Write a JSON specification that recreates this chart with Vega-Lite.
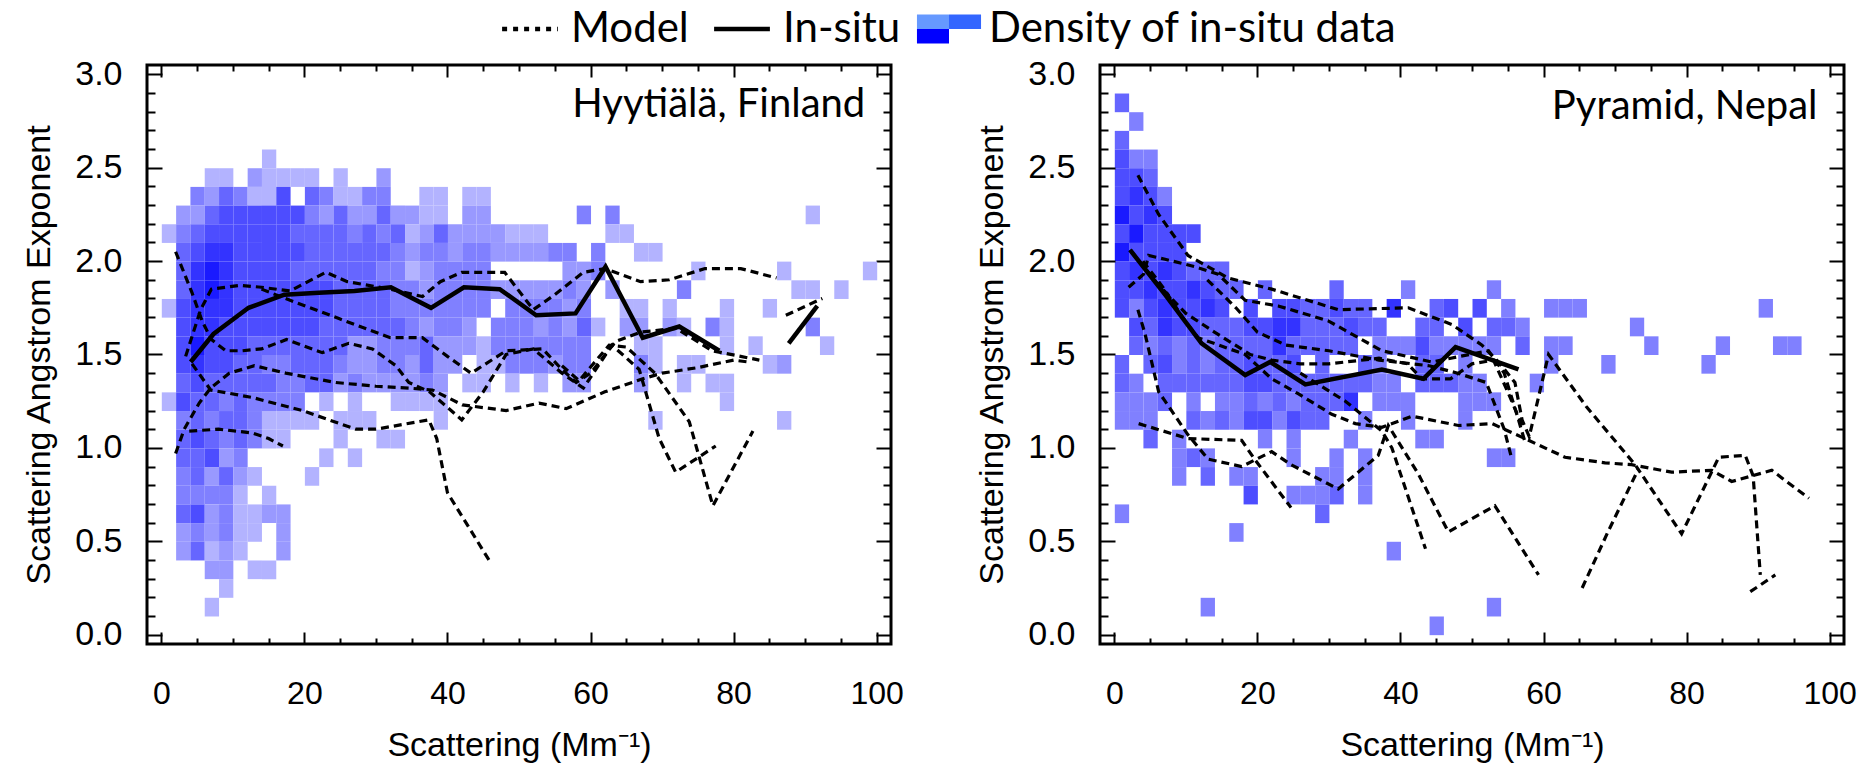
{
"$schema": "https://vega.github.io/schema/vega-lite/v6.json",
"padding": {"left": 21, "top": 6, "right": 0, "bottom": 0},
"bounds": "flush",
"spacing": 209,
"datasets": {
"hyCells": [
{"x":14,"y":2.5,"l":1},
{"x":6,"y":2.4,"l":1},{"x":8,"y":2.4,"l":1},{"x":12,"y":2.4,"l":2},{"x":14,"y":2.4,"l":1},{"x":16,"y":2.4,"l":1},{"x":18,"y":2.4,"l":1},{"x":20,"y":2.4,"l":1},{"x":24,"y":2.4,"l":1},{"x":30,"y":2.4,"l":2},
{"x":4,"y":2.3,"l":3},{"x":6,"y":2.3,"l":2},{"x":8,"y":2.3,"l":4},{"x":10,"y":2.3,"l":3},{"x":12,"y":2.3,"l":1},{"x":14,"y":2.3,"l":1},{"x":16,"y":2.3,"l":5},{"x":20,"y":2.3,"l":4},{"x":22,"y":2.3,"l":3},{"x":24,"y":2.3,"l":1},{"x":26,"y":2.3,"l":1},{"x":28,"y":2.3,"l":3},{"x":30,"y":2.3,"l":3},{"x":36,"y":2.3,"l":1},{"x":38,"y":2.3,"l":1},{"x":42,"y":2.3,"l":1},{"x":44,"y":2.3,"l":1},
{"x":2,"y":2.2,"l":2},{"x":4,"y":2.2,"l":2},{"x":6,"y":2.2,"l":4},{"x":8,"y":2.2,"l":5},{"x":10,"y":2.2,"l":5},{"x":12,"y":2.2,"l":5},{"x":14,"y":2.2,"l":5},{"x":16,"y":2.2,"l":5},{"x":18,"y":2.2,"l":5},{"x":20,"y":2.2,"l":3},{"x":22,"y":2.2,"l":2},{"x":24,"y":2.2,"l":4},{"x":26,"y":2.2,"l":2},{"x":28,"y":2.2,"l":2},{"x":30,"y":2.2,"l":4},{"x":32,"y":2.2,"l":2},{"x":34,"y":2.2,"l":2},{"x":36,"y":2.2,"l":1},{"x":38,"y":2.2,"l":1},{"x":42,"y":2.2,"l":2},{"x":44,"y":2.2,"l":2},{"x":58,"y":2.2,"l":3},{"x":62,"y":2.2,"l":3},{"x":90,"y":2.2,"l":1},
{"x":0,"y":2.1,"l":1},{"x":2,"y":2.1,"l":3},{"x":4,"y":2.1,"l":4},{"x":6,"y":2.1,"l":5},{"x":8,"y":2.1,"l":5},{"x":10,"y":2.1,"l":5},{"x":12,"y":2.1,"l":5},{"x":14,"y":2.1,"l":5},{"x":16,"y":2.1,"l":5},{"x":18,"y":2.1,"l":4},{"x":20,"y":2.1,"l":4},{"x":22,"y":2.1,"l":4},{"x":24,"y":2.1,"l":4},{"x":26,"y":2.1,"l":3},{"x":28,"y":2.1,"l":4},{"x":30,"y":2.1,"l":3},{"x":32,"y":2.1,"l":4},{"x":34,"y":2.1,"l":1},{"x":36,"y":2.1,"l":2},{"x":38,"y":2.1,"l":4},{"x":40,"y":2.1,"l":2},{"x":42,"y":2.1,"l":2},{"x":44,"y":2.1,"l":2},{"x":46,"y":2.1,"l":2},{"x":48,"y":2.1,"l":1},{"x":50,"y":2.1,"l":1},{"x":52,"y":2.1,"l":1},{"x":62,"y":2.1,"l":1},{"x":64,"y":2.1,"l":1},
{"x":2,"y":2.0,"l":4},{"x":4,"y":2.0,"l":5},{"x":6,"y":2.0,"l":6},{"x":8,"y":2.0,"l":6},{"x":10,"y":2.0,"l":5},{"x":12,"y":2.0,"l":5},{"x":14,"y":2.0,"l":5},{"x":16,"y":2.0,"l":5},{"x":18,"y":2.0,"l":5},{"x":20,"y":2.0,"l":4},{"x":22,"y":2.0,"l":4},{"x":24,"y":2.0,"l":4},{"x":26,"y":2.0,"l":4},{"x":28,"y":2.0,"l":4},{"x":30,"y":2.0,"l":4},{"x":32,"y":2.0,"l":3},{"x":34,"y":2.0,"l":2},{"x":36,"y":2.0,"l":3},{"x":38,"y":2.0,"l":3},{"x":40,"y":2.0,"l":2},{"x":42,"y":2.0,"l":3},{"x":44,"y":2.0,"l":3},{"x":46,"y":2.0,"l":2},{"x":48,"y":2.0,"l":2},{"x":50,"y":2.0,"l":2},{"x":52,"y":2.0,"l":2},{"x":54,"y":2.0,"l":3},{"x":56,"y":2.0,"l":3},{"x":60,"y":2.0,"l":3},{"x":66,"y":2.0,"l":1},{"x":68,"y":2.0,"l":1},
{"x":2,"y":1.9,"l":4},{"x":4,"y":1.9,"l":6},{"x":6,"y":1.9,"l":7},{"x":8,"y":1.9,"l":6},{"x":10,"y":1.9,"l":5},{"x":12,"y":1.9,"l":5},{"x":14,"y":1.9,"l":5},{"x":16,"y":1.9,"l":5},{"x":18,"y":1.9,"l":4},{"x":20,"y":1.9,"l":4},{"x":22,"y":1.9,"l":4},{"x":24,"y":1.9,"l":4},{"x":26,"y":1.9,"l":4},{"x":28,"y":1.9,"l":4},{"x":30,"y":1.9,"l":3},{"x":32,"y":1.9,"l":3},{"x":34,"y":1.9,"l":1},{"x":36,"y":1.9,"l":2},{"x":38,"y":1.9,"l":3},{"x":40,"y":1.9,"l":3},{"x":42,"y":1.9,"l":3},{"x":44,"y":1.9,"l":3},{"x":56,"y":1.9,"l":2},{"x":58,"y":1.9,"l":2},{"x":60,"y":1.9,"l":3},{"x":74,"y":1.9,"l":1},{"x":86,"y":1.9,"l":1},{"x":98,"y":1.9,"l":1},
{"x":2,"y":1.8,"l":4},{"x":4,"y":1.8,"l":6},{"x":6,"y":1.8,"l":7},{"x":8,"y":1.8,"l":6},{"x":10,"y":1.8,"l":5},{"x":12,"y":1.8,"l":5},{"x":14,"y":1.8,"l":5},{"x":16,"y":1.8,"l":5},{"x":18,"y":1.8,"l":5},{"x":20,"y":1.8,"l":5},{"x":22,"y":1.8,"l":5},{"x":24,"y":1.8,"l":4},{"x":26,"y":1.8,"l":4},{"x":28,"y":1.8,"l":4},{"x":30,"y":1.8,"l":4},{"x":32,"y":1.8,"l":3},{"x":34,"y":1.8,"l":3},{"x":36,"y":1.8,"l":2},{"x":38,"y":1.8,"l":3},{"x":40,"y":1.8,"l":3},{"x":42,"y":1.8,"l":3},{"x":44,"y":1.8,"l":3},{"x":46,"y":1.8,"l":2},{"x":48,"y":1.8,"l":2},{"x":50,"y":1.8,"l":2},{"x":52,"y":1.8,"l":2},{"x":54,"y":1.8,"l":2},{"x":56,"y":1.8,"l":3},{"x":58,"y":1.8,"l":2},{"x":62,"y":1.8,"l":2},{"x":72,"y":1.8,"l":3},{"x":88,"y":1.8,"l":1},{"x":90,"y":1.8,"l":1},{"x":94,"y":1.8,"l":1},
{"x":0,"y":1.7,"l":1},{"x":2,"y":1.7,"l":5},{"x":4,"y":1.7,"l":6},{"x":6,"y":1.7,"l":6},{"x":8,"y":1.7,"l":6},{"x":10,"y":1.7,"l":5},{"x":12,"y":1.7,"l":5},{"x":14,"y":1.7,"l":5},{"x":16,"y":1.7,"l":5},{"x":18,"y":1.7,"l":5},{"x":20,"y":1.7,"l":5},{"x":22,"y":1.7,"l":5},{"x":24,"y":1.7,"l":4},{"x":26,"y":1.7,"l":4},{"x":28,"y":1.7,"l":4},{"x":30,"y":1.7,"l":4},{"x":32,"y":1.7,"l":3},{"x":34,"y":1.7,"l":3},{"x":36,"y":1.7,"l":3},{"x":38,"y":1.7,"l":3},{"x":40,"y":1.7,"l":3},{"x":42,"y":1.7,"l":3},{"x":44,"y":1.7,"l":3},{"x":48,"y":1.7,"l":3},{"x":50,"y":1.7,"l":3},{"x":52,"y":1.7,"l":3},{"x":54,"y":1.7,"l":3},{"x":56,"y":1.7,"l":2},{"x":58,"y":1.7,"l":3},{"x":64,"y":1.7,"l":1},{"x":66,"y":1.7,"l":1},{"x":70,"y":1.7,"l":1},{"x":78,"y":1.7,"l":1},{"x":84,"y":1.7,"l":1},
{"x":2,"y":1.6,"l":5},{"x":4,"y":1.6,"l":6},{"x":6,"y":1.6,"l":6},{"x":8,"y":1.6,"l":5},{"x":10,"y":1.6,"l":5},{"x":12,"y":1.6,"l":5},{"x":14,"y":1.6,"l":5},{"x":16,"y":1.6,"l":5},{"x":18,"y":1.6,"l":5},{"x":20,"y":1.6,"l":5},{"x":22,"y":1.6,"l":4},{"x":24,"y":1.6,"l":4},{"x":26,"y":1.6,"l":4},{"x":28,"y":1.6,"l":4},{"x":30,"y":1.6,"l":4},{"x":32,"y":1.6,"l":4},{"x":34,"y":1.6,"l":3},{"x":36,"y":1.6,"l":2},{"x":38,"y":1.6,"l":3},{"x":40,"y":1.6,"l":3},{"x":42,"y":1.6,"l":2},{"x":46,"y":1.6,"l":3},{"x":48,"y":1.6,"l":3},{"x":50,"y":1.6,"l":3},{"x":52,"y":1.6,"l":2},{"x":54,"y":1.6,"l":3},{"x":56,"y":1.6,"l":2},{"x":58,"y":1.6,"l":4},{"x":60,"y":1.6,"l":1},{"x":64,"y":1.6,"l":2},{"x":66,"y":1.6,"l":2},{"x":70,"y":1.6,"l":2},{"x":72,"y":1.6,"l":1},{"x":76,"y":1.6,"l":3},{"x":78,"y":1.6,"l":1},{"x":90,"y":1.6,"l":3},
{"x":2,"y":1.5,"l":5},{"x":4,"y":1.5,"l":7},{"x":6,"y":1.5,"l":5},{"x":8,"y":1.5,"l":5},{"x":10,"y":1.5,"l":5},{"x":12,"y":1.5,"l":4},{"x":14,"y":1.5,"l":4},{"x":16,"y":1.5,"l":4},{"x":18,"y":1.5,"l":4},{"x":20,"y":1.5,"l":4},{"x":22,"y":1.5,"l":4},{"x":24,"y":1.5,"l":4},{"x":26,"y":1.5,"l":2},{"x":28,"y":1.5,"l":2},{"x":30,"y":1.5,"l":3},{"x":32,"y":1.5,"l":3},{"x":34,"y":1.5,"l":3},{"x":36,"y":1.5,"l":4},{"x":38,"y":1.5,"l":2},{"x":40,"y":1.5,"l":2},{"x":42,"y":1.5,"l":2},{"x":44,"y":1.5,"l":1},{"x":46,"y":1.5,"l":3},{"x":48,"y":1.5,"l":3},{"x":50,"y":1.5,"l":3},{"x":52,"y":1.5,"l":3},{"x":54,"y":1.5,"l":3},{"x":56,"y":1.5,"l":3},{"x":58,"y":1.5,"l":3},{"x":66,"y":1.5,"l":1},{"x":68,"y":1.5,"l":1},{"x":78,"y":1.5,"l":1},{"x":82,"y":1.5,"l":1},{"x":92,"y":1.5,"l":1},
{"x":2,"y":1.4,"l":5},{"x":4,"y":1.4,"l":6},{"x":6,"y":1.4,"l":5},{"x":8,"y":1.4,"l":5},{"x":10,"y":1.4,"l":4},{"x":12,"y":1.4,"l":4},{"x":14,"y":1.4,"l":3},{"x":16,"y":1.4,"l":3},{"x":18,"y":1.4,"l":4},{"x":20,"y":1.4,"l":4},{"x":22,"y":1.4,"l":4},{"x":24,"y":1.4,"l":3},{"x":26,"y":1.4,"l":2},{"x":28,"y":1.4,"l":2},{"x":30,"y":1.4,"l":3},{"x":32,"y":1.4,"l":3},{"x":34,"y":1.4,"l":2},{"x":36,"y":1.4,"l":4},{"x":38,"y":1.4,"l":2},{"x":40,"y":1.4,"l":2},{"x":44,"y":1.4,"l":1},{"x":46,"y":1.4,"l":1},{"x":48,"y":1.4,"l":3},{"x":50,"y":1.4,"l":3},{"x":52,"y":1.4,"l":3},{"x":54,"y":1.4,"l":2},{"x":56,"y":1.4,"l":3},{"x":58,"y":1.4,"l":3},{"x":66,"y":1.4,"l":3},{"x":68,"y":1.4,"l":1},{"x":72,"y":1.4,"l":1},{"x":74,"y":1.4,"l":1},{"x":84,"y":1.4,"l":1},{"x":86,"y":1.4,"l":2},
{"x":2,"y":1.3,"l":4},{"x":4,"y":1.3,"l":5},{"x":6,"y":1.3,"l":4},{"x":8,"y":1.3,"l":4},{"x":10,"y":1.3,"l":4},{"x":12,"y":1.3,"l":4},{"x":14,"y":1.3,"l":4},{"x":16,"y":1.3,"l":3},{"x":18,"y":1.3,"l":3},{"x":20,"y":1.3,"l":4},{"x":22,"y":1.3,"l":4},{"x":24,"y":1.3,"l":2},{"x":26,"y":1.3,"l":3},{"x":28,"y":1.3,"l":2},{"x":30,"y":1.3,"l":2},{"x":32,"y":1.3,"l":2},{"x":34,"y":1.3,"l":2},{"x":36,"y":1.3,"l":3},{"x":38,"y":1.3,"l":2},{"x":42,"y":1.3,"l":1},{"x":44,"y":1.3,"l":1},{"x":48,"y":1.3,"l":1},{"x":52,"y":1.3,"l":1},{"x":56,"y":1.3,"l":2},{"x":58,"y":1.3,"l":2},{"x":66,"y":1.3,"l":2},{"x":72,"y":1.3,"l":1},{"x":76,"y":1.3,"l":1},{"x":78,"y":1.3,"l":1},
{"x":0,"y":1.2,"l":1},{"x":2,"y":1.2,"l":5},{"x":4,"y":1.2,"l":4},{"x":6,"y":1.2,"l":4},{"x":8,"y":1.2,"l":3},{"x":10,"y":1.2,"l":4},{"x":12,"y":1.2,"l":3},{"x":14,"y":1.2,"l":3},{"x":16,"y":1.2,"l":3},{"x":18,"y":1.2,"l":3},{"x":22,"y":1.2,"l":1},{"x":26,"y":1.2,"l":1},{"x":32,"y":1.2,"l":1},{"x":34,"y":1.2,"l":1},{"x":36,"y":1.2,"l":1},{"x":38,"y":1.2,"l":1},{"x":78,"y":1.2,"l":1},
{"x":2,"y":1.1,"l":3},{"x":4,"y":1.1,"l":4},{"x":6,"y":1.1,"l":3},{"x":8,"y":1.1,"l":4},{"x":10,"y":1.1,"l":4},{"x":12,"y":1.1,"l":3},{"x":14,"y":1.1,"l":1},{"x":16,"y":1.1,"l":1},{"x":18,"y":1.1,"l":1},{"x":20,"y":1.1,"l":1},{"x":24,"y":1.1,"l":1},{"x":26,"y":1.1,"l":1},{"x":28,"y":1.1,"l":1},{"x":38,"y":1.1,"l":1},{"x":68,"y":1.1,"l":1},{"x":86,"y":1.1,"l":1},
{"x":2,"y":1.0,"l":4},{"x":4,"y":1.0,"l":5},{"x":6,"y":1.0,"l":4},{"x":8,"y":1.0,"l":3},{"x":10,"y":1.0,"l":4},{"x":12,"y":1.0,"l":3},{"x":14,"y":1.0,"l":1},{"x":16,"y":1.0,"l":1},{"x":24,"y":1.0,"l":1},{"x":30,"y":1.0,"l":1},{"x":32,"y":1.0,"l":1},
{"x":2,"y":0.9,"l":4},{"x":4,"y":0.9,"l":4},{"x":6,"y":0.9,"l":5},{"x":8,"y":0.9,"l":2},{"x":10,"y":0.9,"l":3},{"x":22,"y":0.9,"l":1},{"x":26,"y":0.9,"l":1},
{"x":2,"y":0.8,"l":3},{"x":4,"y":0.8,"l":4},{"x":6,"y":0.8,"l":2},{"x":8,"y":0.8,"l":4},{"x":10,"y":0.8,"l":2},{"x":12,"y":0.8,"l":1},{"x":20,"y":0.8,"l":1},
{"x":2,"y":0.7,"l":3},{"x":4,"y":0.7,"l":3},{"x":6,"y":0.7,"l":3},{"x":8,"y":0.7,"l":3},{"x":10,"y":0.7,"l":1},{"x":14,"y":0.7,"l":1},
{"x":2,"y":0.6,"l":4},{"x":4,"y":0.6,"l":5},{"x":6,"y":0.6,"l":2},{"x":8,"y":0.6,"l":3},{"x":10,"y":0.6,"l":1},{"x":12,"y":0.6,"l":1},{"x":14,"y":0.6,"l":2},{"x":16,"y":0.6,"l":2},
{"x":2,"y":0.5,"l":2},{"x":4,"y":0.5,"l":3},{"x":6,"y":0.5,"l":2},{"x":8,"y":0.5,"l":3},{"x":10,"y":0.5,"l":1},{"x":12,"y":0.5,"l":1},{"x":16,"y":0.5,"l":2},
{"x":2,"y":0.4,"l":2},{"x":4,"y":0.4,"l":4},{"x":6,"y":0.4,"l":1},{"x":8,"y":0.4,"l":2},{"x":10,"y":0.4,"l":1},{"x":16,"y":0.4,"l":2},
{"x":6,"y":0.3,"l":2},{"x":8,"y":0.3,"l":2},{"x":12,"y":0.3,"l":1},{"x":14,"y":0.3,"l":1},
{"x":8,"y":0.2,"l":1},
{"x":6,"y":0.1,"l":1}
],
"pyCells": [
{"x":0,"y":2.8,"l":4},
{"x":2,"y":2.7,"l":3},
{"x":0,"y":2.6,"l":4},
{"x":0,"y":2.5,"l":5},{"x":2,"y":2.5,"l":3},{"x":4,"y":2.5,"l":3},
{"x":0,"y":2.4,"l":5},{"x":2,"y":2.4,"l":5},{"x":4,"y":2.4,"l":4},
{"x":0,"y":2.3,"l":5},{"x":2,"y":2.3,"l":6},{"x":4,"y":2.3,"l":5},{"x":6,"y":2.3,"l":3},
{"x":0,"y":2.2,"l":7},{"x":2,"y":2.2,"l":5},{"x":4,"y":2.2,"l":6},{"x":6,"y":2.2,"l":5},
{"x":0,"y":2.1,"l":5},{"x":2,"y":2.1,"l":7},{"x":4,"y":2.1,"l":5},{"x":6,"y":2.1,"l":5},{"x":8,"y":2.1,"l":5},{"x":10,"y":2.1,"l":5},
{"x":0,"y":2.0,"l":7},{"x":2,"y":2.0,"l":5},{"x":4,"y":2.0,"l":5},{"x":6,"y":2.0,"l":5},{"x":8,"y":2.0,"l":5},
{"x":0,"y":1.9,"l":5},{"x":2,"y":1.9,"l":6},{"x":4,"y":1.9,"l":5},{"x":6,"y":1.9,"l":6},{"x":8,"y":1.9,"l":5},{"x":10,"y":1.9,"l":4},{"x":12,"y":1.9,"l":4},{"x":14,"y":1.9,"l":4},
{"x":0,"y":1.8,"l":5},{"x":2,"y":1.8,"l":5},{"x":4,"y":1.8,"l":6},{"x":6,"y":1.8,"l":5},{"x":8,"y":1.8,"l":5},{"x":10,"y":1.8,"l":6},{"x":12,"y":1.8,"l":5},{"x":14,"y":1.8,"l":4},{"x":16,"y":1.8,"l":4},{"x":20,"y":1.8,"l":4},{"x":30,"y":1.8,"l":4},{"x":40,"y":1.8,"l":3},{"x":52,"y":1.8,"l":3},
{"x":0,"y":1.7,"l":5},{"x":2,"y":1.7,"l":3},{"x":4,"y":1.7,"l":5},{"x":6,"y":1.7,"l":6},{"x":8,"y":1.7,"l":5},{"x":10,"y":1.7,"l":5},{"x":12,"y":1.7,"l":6},{"x":14,"y":1.7,"l":5},{"x":18,"y":1.7,"l":5},{"x":22,"y":1.7,"l":5},{"x":24,"y":1.7,"l":5},{"x":26,"y":1.7,"l":4},{"x":28,"y":1.7,"l":4},{"x":30,"y":1.7,"l":5},{"x":32,"y":1.7,"l":4},{"x":34,"y":1.7,"l":4},{"x":38,"y":1.7,"l":6},{"x":44,"y":1.7,"l":4},{"x":46,"y":1.7,"l":5},{"x":50,"y":1.7,"l":5},{"x":54,"y":1.7,"l":3},{"x":60,"y":1.7,"l":3},{"x":62,"y":1.7,"l":3},{"x":64,"y":1.7,"l":3},{"x":90,"y":1.7,"l":3},
{"x":2,"y":1.6,"l":5},{"x":4,"y":1.6,"l":4},{"x":6,"y":1.6,"l":6},{"x":8,"y":1.6,"l":5},{"x":10,"y":1.6,"l":5},{"x":12,"y":1.6,"l":4},{"x":14,"y":1.6,"l":4},{"x":16,"y":1.6,"l":4},{"x":18,"y":1.6,"l":5},{"x":20,"y":1.6,"l":5},{"x":22,"y":1.6,"l":6},{"x":24,"y":1.6,"l":6},{"x":26,"y":1.6,"l":4},{"x":28,"y":1.6,"l":4},{"x":30,"y":1.6,"l":4},{"x":32,"y":1.6,"l":5},{"x":34,"y":1.6,"l":4},{"x":36,"y":1.6,"l":4},{"x":42,"y":1.6,"l":4},{"x":44,"y":1.6,"l":4},{"x":48,"y":1.6,"l":5},{"x":52,"y":1.6,"l":4},{"x":54,"y":1.6,"l":4},{"x":56,"y":1.6,"l":3},{"x":72,"y":1.6,"l":3},
{"x":2,"y":1.5,"l":4},{"x":4,"y":1.5,"l":3},{"x":6,"y":1.5,"l":4},{"x":8,"y":1.5,"l":3},{"x":10,"y":1.5,"l":4},{"x":12,"y":1.5,"l":3},{"x":14,"y":1.5,"l":4},{"x":16,"y":1.5,"l":4},{"x":18,"y":1.5,"l":4},{"x":20,"y":1.5,"l":4},{"x":22,"y":1.5,"l":6},{"x":24,"y":1.5,"l":4},{"x":26,"y":1.5,"l":4},{"x":28,"y":1.5,"l":4},{"x":30,"y":1.5,"l":4},{"x":32,"y":1.5,"l":4},{"x":36,"y":1.5,"l":3},{"x":38,"y":1.5,"l":3},{"x":40,"y":1.5,"l":3},{"x":42,"y":1.5,"l":5},{"x":44,"y":1.5,"l":3},{"x":46,"y":1.5,"l":3},{"x":48,"y":1.5,"l":3},{"x":50,"y":1.5,"l":3},{"x":52,"y":1.5,"l":3},{"x":56,"y":1.5,"l":4},{"x":60,"y":1.5,"l":3},{"x":62,"y":1.5,"l":3},{"x":74,"y":1.5,"l":3},{"x":84,"y":1.5,"l":3},{"x":92,"y":1.5,"l":3},{"x":94,"y":1.5,"l":3},
{"x":0,"y":1.4,"l":4},{"x":4,"y":1.4,"l":4},{"x":6,"y":1.4,"l":5},{"x":8,"y":1.4,"l":3},{"x":10,"y":1.4,"l":4},{"x":12,"y":1.4,"l":3},{"x":14,"y":1.4,"l":4},{"x":16,"y":1.4,"l":4},{"x":18,"y":1.4,"l":5},{"x":20,"y":1.4,"l":4},{"x":22,"y":1.4,"l":4},{"x":24,"y":1.4,"l":5},{"x":28,"y":1.4,"l":4},{"x":34,"y":1.4,"l":4},{"x":36,"y":1.4,"l":3},{"x":42,"y":1.4,"l":4},{"x":44,"y":1.4,"l":4},{"x":48,"y":1.4,"l":3},{"x":60,"y":1.4,"l":3},{"x":68,"y":1.4,"l":3},{"x":82,"y":1.4,"l":3},
{"x":0,"y":1.3,"l":4},{"x":2,"y":1.3,"l":3},{"x":6,"y":1.3,"l":4},{"x":8,"y":1.3,"l":4},{"x":10,"y":1.3,"l":4},{"x":12,"y":1.3,"l":4},{"x":14,"y":1.3,"l":4},{"x":16,"y":1.3,"l":4},{"x":18,"y":1.3,"l":5},{"x":20,"y":1.3,"l":5},{"x":22,"y":1.3,"l":4},{"x":24,"y":1.3,"l":4},{"x":26,"y":1.3,"l":4},{"x":28,"y":1.3,"l":4},{"x":30,"y":1.3,"l":4},{"x":32,"y":1.3,"l":4},{"x":34,"y":1.3,"l":4},{"x":36,"y":1.3,"l":3},{"x":38,"y":1.3,"l":3},{"x":42,"y":1.3,"l":4},{"x":44,"y":1.3,"l":4},{"x":46,"y":1.3,"l":4},{"x":48,"y":1.3,"l":3},{"x":50,"y":1.3,"l":3},{"x":58,"y":1.3,"l":3},
{"x":0,"y":1.2,"l":3},{"x":2,"y":1.2,"l":3},{"x":4,"y":1.2,"l":3},{"x":6,"y":1.2,"l":4},{"x":10,"y":1.2,"l":3},{"x":14,"y":1.2,"l":3},{"x":16,"y":1.2,"l":3},{"x":18,"y":1.2,"l":4},{"x":20,"y":1.2,"l":3},{"x":22,"y":1.2,"l":4},{"x":24,"y":1.2,"l":3},{"x":26,"y":1.2,"l":4},{"x":28,"y":1.2,"l":4},{"x":30,"y":1.2,"l":4},{"x":32,"y":1.2,"l":6},{"x":36,"y":1.2,"l":3},{"x":38,"y":1.2,"l":3},{"x":40,"y":1.2,"l":3},{"x":48,"y":1.2,"l":3},{"x":50,"y":1.2,"l":3},{"x":52,"y":1.2,"l":3},
{"x":0,"y":1.1,"l":3},{"x":2,"y":1.1,"l":3},{"x":4,"y":1.1,"l":3},{"x":10,"y":1.1,"l":4},{"x":12,"y":1.1,"l":3},{"x":14,"y":1.1,"l":4},{"x":16,"y":1.1,"l":3},{"x":18,"y":1.1,"l":5},{"x":20,"y":1.1,"l":5},{"x":22,"y":1.1,"l":3},{"x":24,"y":1.1,"l":5},{"x":26,"y":1.1,"l":4},{"x":28,"y":1.1,"l":4},{"x":34,"y":1.1,"l":3},{"x":40,"y":1.1,"l":3},{"x":48,"y":1.1,"l":3},
{"x":4,"y":1.0,"l":4},{"x":8,"y":1.0,"l":3},{"x":20,"y":1.0,"l":3},{"x":24,"y":1.0,"l":3},{"x":32,"y":1.0,"l":3},{"x":42,"y":1.0,"l":3},{"x":44,"y":1.0,"l":3},
{"x":8,"y":0.9,"l":3},{"x":10,"y":0.9,"l":4},{"x":12,"y":0.9,"l":3},{"x":24,"y":0.9,"l":3},{"x":30,"y":0.9,"l":3},{"x":34,"y":0.9,"l":3},{"x":52,"y":0.9,"l":3},{"x":54,"y":0.9,"l":3},
{"x":8,"y":0.8,"l":3},{"x":12,"y":0.8,"l":4},{"x":16,"y":0.8,"l":3},{"x":18,"y":0.8,"l":3},{"x":28,"y":0.8,"l":3},{"x":30,"y":0.8,"l":3},{"x":34,"y":0.8,"l":3},
{"x":18,"y":0.7,"l":5},{"x":24,"y":0.7,"l":3},{"x":26,"y":0.7,"l":3},{"x":28,"y":0.7,"l":3},{"x":30,"y":0.7,"l":4},{"x":34,"y":0.7,"l":3},
{"x":0,"y":0.6,"l":3},{"x":28,"y":0.6,"l":4},
{"x":16,"y":0.5,"l":3},
{"x":38,"y":0.4,"l":3},
{"x":12,"y":0.1,"l":3},{"x":52,"y":0.1,"l":3},
{"x":44,"y":0.0,"l":3}
],
"hyModel": [
{"id":"A","x":3.4,"y":1.49},{"id":"A","x":5.5,"y":1.74},{"id":"A","x":7,"y":1.85},{"id":"A","x":11,"y":1.87},{"id":"A","x":14,"y":1.86},{"id":"A","x":18,"y":1.84},{"id":"A","x":23,"y":1.94},{"id":"A","x":26,"y":1.89},{"id":"A","x":32,"y":1.85},{"id":"A","x":36.5,"y":1.81},{"id":"A","x":39,"y":1.89},{"id":"A","x":42,"y":1.94},{"id":"A","x":48,"y":1.94},{"id":"A","x":52,"y":1.74},{"id":"A","x":55,"y":1.82},{"id":"A","x":59,"y":1.94},{"id":"A","x":62,"y":1.96},{"id":"A","x":67,"y":1.89},{"id":"A","x":71,"y":1.9},{"id":"A","x":76,"y":1.96},{"id":"A","x":81,"y":1.96},{"id":"A","x":86,"y":1.91},
{"id":"B","x":14,"y":1.85},{"id":"B","x":18,"y":1.79},{"id":"B","x":25,"y":1.69},{"id":"B","x":32,"y":1.59},{"id":"B","x":36.5,"y":1.59},{"id":"B","x":40,"y":1.49},{"id":"B","x":43.3,"y":1.4},{"id":"B","x":48.2,"y":1.52},{"id":"B","x":53.3,"y":1.53},{"id":"B","x":56,"y":1.42},{"id":"B","x":58,"y":1.35},{"id":"B","x":60,"y":1.4},{"id":"B","x":63.5,"y":1.57},{"id":"B","x":67,"y":1.62},{"id":"B","x":72,"y":1.64},{"id":"B","x":77,"y":1.52},{"id":"B","x":83.6,"y":1.47},
{"id":"C","x":2,"y":2.05},{"id":"C","x":4.3,"y":1.83},{"id":"C","x":5.7,"y":1.68},{"id":"C","x":7,"y":1.58},{"id":"C","x":9,"y":1.52},{"id":"C","x":11.3,"y":1.52},{"id":"C","x":14,"y":1.53},{"id":"C","x":17.5,"y":1.58},{"id":"C","x":22.5,"y":1.51},{"id":"C","x":26.2,"y":1.56},{"id":"C","x":29.5,"y":1.53},{"id":"C","x":32.8,"y":1.44},{"id":"C","x":34.6,"y":1.35},{"id":"C","x":37.5,"y":1.3},{"id":"C","x":42,"y":1.15},{"id":"C","x":45,"y":1.3},{"id":"C","x":48.2,"y":1.5},{"id":"C","x":52,"y":1.53},{"id":"C","x":56,"y":1.4},{"id":"C","x":59,"y":1.32},{"id":"C","x":63,"y":1.55},{"id":"C","x":66.8,"y":1.42},{"id":"C","x":69.6,"y":1.05},{"id":"C","x":71.9,"y":0.87},{"id":"C","x":77.5,"y":1.01},
{"id":"D","x":2,"y":0.97},{"id":"D","x":3.2,"y":1.1},{"id":"D","x":5.3,"y":1.24},{"id":"D","x":6.9,"y":1.32},{"id":"D","x":9.5,"y":1.4},{"id":"D","x":13,"y":1.44},{"id":"D","x":17.4,"y":1.4},{"id":"D","x":24.4,"y":1.35},{"id":"D","x":30,"y":1.33},{"id":"D","x":34.6,"y":1.32},{"id":"D","x":37.9,"y":1.31},{"id":"D","x":42.1,"y":1.23},{"id":"D","x":48.2,"y":1.2},{"id":"D","x":52.8,"y":1.24},{"id":"D","x":56.6,"y":1.21},{"id":"D","x":62,"y":1.3},{"id":"D","x":67.3,"y":1.37},{"id":"D","x":70,"y":1.4},{"id":"D","x":75,"y":1.43},{"id":"D","x":80,"y":1.47},{"id":"D","x":82,"y":1.46},
{"id":"F","x":4.3,"y":1.45},{"id":"F","x":6.9,"y":1.31},{"id":"F","x":12.7,"y":1.27},{"id":"F","x":19.7,"y":1.2},{"id":"F","x":27.2,"y":1.1},{"id":"F","x":30,"y":1.1},{"id":"F","x":37.4,"y":1.15},{"id":"F","x":38.5,"y":1.05},{"id":"F","x":40,"y":0.76},{"id":"F","x":45.8,"y":0.4},
{"id":"G","x":3.9,"y":1.09},{"id":"G","x":8,"y":1.1},{"id":"G","x":12.7,"y":1.08},{"id":"G","x":15,"y":1.05},{"id":"G","x":17,"y":1.01},
{"id":"H","x":56,"y":1.44},{"id":"H","x":58.4,"y":1.36},{"id":"H","x":62.6,"y":1.55},{"id":"H","x":65,"y":1.54},{"id":"H","x":69,"y":1.4},{"id":"H","x":73.8,"y":1.14},{"id":"H","x":77.1,"y":0.69},{"id":"H","x":82.7,"y":1.09},
{"id":"I","x":87.3,"y":1.71},{"id":"I","x":92.4,"y":1.8}
],
"hyInsitu": [
{"s":1,"x":4.1,"y":1.46},{"s":1,"x":7.3,"y":1.61},{"s":1,"x":12.2,"y":1.75},{"s":1,"x":17.2,"y":1.82},{"s":1,"x":22,"y":1.83},{"s":1,"x":27,"y":1.84},{"s":1,"x":32.1,"y":1.86},{"s":1,"x":37.7,"y":1.75},{"s":1,"x":42.3,"y":1.86},{"s":1,"x":47.3,"y":1.85},{"s":1,"x":52.4,"y":1.71},{"s":1,"x":57.9,"y":1.72},{"s":1,"x":62.1,"y":1.97},{"s":1,"x":67.3,"y":1.59},{"s":1,"x":72.4,"y":1.65},{"s":1,"x":78,"y":1.52},
{"s":2,"x":87.7,"y":1.56},{"s":2,"x":91.7,"y":1.76}
],
"pyModel": [
{"id":"A","x":3.3,"y":2.46},{"id":"A","x":6.2,"y":2.25},{"id":"A","x":10.3,"y":2.03},{"id":"A","x":15.9,"y":1.91},{"id":"A","x":22,"y":1.85},{"id":"A","x":31.3,"y":1.74},{"id":"A","x":41.1,"y":1.75},{"id":"A","x":47.2,"y":1.66},{"id":"A","x":51.4,"y":1.55},{"id":"A","x":53.7,"y":1.46},{"id":"A","x":56,"y":1.35},{"id":"A","x":57,"y":1.15},{"id":"A","x":58,"y":1.06},{"id":"A","x":60.7,"y":1.5},{"id":"A","x":66,"y":1.22},{"id":"A","x":72.8,"y":0.91},{"id":"A","x":79.3,"y":0.54},{"id":"A","x":84.5,"y":0.95},{"id":"A","x":88.2,"y":0.96},{"id":"A","x":89.3,"y":0.85},{"id":"A","x":90.3,"y":0.32},
{"id":"B","x":2,"y":1.86},{"id":"B","x":4.1,"y":1.93},{"id":"B","x":4.8,"y":2.03},{"id":"B","x":7.1,"y":2.01},{"id":"B","x":11.3,"y":1.97},{"id":"B","x":14.5,"y":1.93},{"id":"B","x":18.3,"y":1.79},{"id":"B","x":22.9,"y":1.76},{"id":"B","x":29.9,"y":1.68},{"id":"B","x":37.4,"y":1.52},{"id":"B","x":44.4,"y":1.46},{"id":"B","x":52.3,"y":1.52},{"id":"B","x":54.5,"y":1.4},{"id":"B","x":56.5,"y":1.15},{"id":"B","x":57.5,"y":1.02},
{"id":"C","x":2.2,"y":2.06},{"id":"C","x":6,"y":1.88},{"id":"C","x":10,"y":1.72},{"id":"C","x":14,"y":1.62},{"id":"C","x":19,"y":1.5},{"id":"C","x":22,"y":1.47},{"id":"C","x":26,"y":1.45},{"id":"C","x":30,"y":1.45},{"id":"C","x":37,"y":1.48},{"id":"C","x":41,"y":1.45},{"id":"C","x":43,"y":1.37},{"id":"C","x":47,"y":1.37},{"id":"C","x":50,"y":1.45},{"id":"C","x":53,"y":1.47},{"id":"C","x":55,"y":1.3},{"id":"C","x":57,"y":1.12},
{"id":"D","x":3.3,"y":1.74},{"id":"D","x":4.3,"y":1.61},{"id":"D","x":6.2,"y":1.3},{"id":"D","x":7.1,"y":1.25},{"id":"D","x":10.3,"y":1.07},{"id":"D","x":13.1,"y":0.94},{"id":"D","x":17.8,"y":0.9},{"id":"D","x":22,"y":0.98},{"id":"D","x":24.7,"y":0.91},{"id":"D","x":31.3,"y":0.78},{"id":"D","x":36.9,"y":0.96},{"id":"D","x":38.3,"y":1.12},{"id":"D","x":42.5,"y":0.86},{"id":"D","x":46.7,"y":0.55},{"id":"D","x":53.2,"y":0.69},{"id":"D","x":59.3,"y":0.32},
{"id":"E","x":3.4,"y":1.13},{"id":"E","x":10.3,"y":1.05},{"id":"E","x":17.8,"y":1.04},{"id":"E","x":19.6,"y":0.94},{"id":"E","x":24.7,"y":0.68},
{"id":"F","x":4,"y":2.0},{"id":"F","x":7,"y":1.85},{"id":"F","x":9.5,"y":1.7},{"id":"F","x":11.7,"y":1.59},{"id":"F","x":18.3,"y":1.5},{"id":"F","x":22,"y":1.37},{"id":"F","x":25.7,"y":1.29},{"id":"F","x":30.4,"y":1.18},{"id":"F","x":33.7,"y":1.13},{"id":"F","x":37.4,"y":1.11},{"id":"F","x":41.6,"y":1.17},{"id":"F","x":48.1,"y":1.12},{"id":"F","x":52.8,"y":1.13},{"id":"F","x":57.4,"y":1.05},{"id":"F","x":63,"y":0.95},{"id":"F","x":68.6,"y":0.92},{"id":"F","x":72.3,"y":0.91},{"id":"F","x":77.9,"y":0.87},{"id":"F","x":83.5,"y":0.88},{"id":"F","x":86.3,"y":0.82},{"id":"F","x":91.9,"y":0.88},{"id":"F","x":97.1,"y":0.73},
{"id":"G","x":13,"y":1.9},{"id":"G","x":17,"y":1.75},{"id":"G","x":20,"y":1.62},{"id":"G","x":24,"y":1.55},{"id":"G","x":30,"y":1.52},{"id":"G","x":37,"y":1.47},{"id":"G","x":44,"y":1.44},{"id":"G","x":48,"y":1.4},{"id":"G","x":52,"y":1.35},{"id":"G","x":54.5,"y":1.1},{"id":"G","x":55.5,"y":0.95},
{"id":"H","x":65.4,"y":0.25},{"id":"H","x":69,"y":0.55},{"id":"H","x":73.3,"y":0.89},
{"id":"I","x":88.9,"y":0.23},{"id":"I","x":92.4,"y":0.32},
{"id":"J","x":26,"y":1.4},{"id":"J","x":32.3,"y":1.25},{"id":"J","x":37.4,"y":1.09},{"id":"J","x":38.8,"y":1.0},{"id":"J","x":43.5,"y":0.46}
],
"pyInsitu": [
{"s":1,"x":2.2,"y":2.06},{"s":1,"x":7.1,"y":1.82},{"s":1,"x":12.2,"y":1.56},{"s":1,"x":18.3,"y":1.39},{"s":1,"x":21.8,"y":1.46},{"s":1,"x":26.7,"y":1.34},{"s":1,"x":37.4,"y":1.42},{"s":1,"x":43.2,"y":1.37},{"s":1,"x":47.7,"y":1.54},{"s":1,"x":56.5,"y":1.42}
]
},
"hconcat": [
{
"width": 744, "height": 579,
"layer": [
{"data": {"name": "hyCells"}, "mark": {"type": "rect"},
 "encoding": {
  "x": {"field": "x", "type": "quantitative", "bin": {"binned": true, "step": 2}, "scale": {"domain": [-2, 102], "nice": false, "zero": false},
        "axis": {"orient": "bottom", "values": [0,5,10,15,20,25,30,35,40,45,50,55,60,65,70,75,80,85,90,95,100], "tickSize": {"condition": {"test": "datum.value % 20 === 0", "value": -12}, "value": -6}, "labelExpr": "datum.value % 20 === 0 ? datum.label : ''", "labelPadding": 46, "labelOverlap": false, "labelFlush": false, "title": "Scattering (Mm⁻¹)", "titlePadding": 13}},
  "y": {"field": "y", "type": "quantitative", "bin": {"binned": true, "step": 0.1}, "scale": {"domain": [-0.05, 3.05], "nice": false, "zero": false},
        "axis": {"orient": "left", "values": [0,0.1,0.2,0.3,0.4,0.5,0.6,0.7,0.8,0.9,1,1.1,1.2,1.3,1.4,1.5,1.6,1.7,1.8,1.9,2,2.1,2.2,2.3,2.4,2.5,2.6,2.7,2.8,2.9,3], "tickSize": {"condition": {"test": "round(datum.value*10) % 5 === 0", "value": -15}, "value": -8}, "labelExpr": "round(datum.value*10) % 5 === 0 ? format(datum.value, '.1f') : ''", "labelFontSize": 34, "labelPadding": 40, "labelOverlap": false, "labelFlush": false, "title": "Scattering Angstrom Exponent", "titlePadding": 18}},
  "fill": {"field": "l", "type": "ordinal", "scale": {"domain": [1,2,3,4,5,6,7], "range": ["#b3b3ff","#9999ff","#8080ff","#6666ff","#4d4dff","#3333ff","#1a1aff"]}, "legend": null}
 }},
{"data": {"name": "hyModel"}, "mark": {"type": "line", "color": "black", "strokeWidth": 3.2, "strokeDash": [8,5]},
 "encoding": {
  "x": {"field": "x", "type": "quantitative", "axis": {"orient": "top", "values": [0,5,10,15,20,25,30,35,40,45,50,55,60,65,70,75,80,85,90,95,100], "tickSize": {"condition": {"test": "datum.value % 20 === 0", "value": -12}, "value": -6}, "labels": false, "title": null}},
  "y": {"field": "y", "type": "quantitative", "axis": {"orient": "right", "values": [0,0.1,0.2,0.3,0.4,0.5,0.6,0.7,0.8,0.9,1,1.1,1.2,1.3,1.4,1.5,1.6,1.7,1.8,1.9,2,2.1,2.2,2.3,2.4,2.5,2.6,2.7,2.8,2.9,3], "tickSize": {"condition": {"test": "round(datum.value*10) % 5 === 0", "value": -15}, "value": -8}, "labels": false, "title": null}},
  "detail": {"field": "id"}
 }},
{"data": {"name": "hyInsitu"}, "mark": {"type": "line", "color": "black", "strokeWidth": 4.5},
 "encoding": {
  "x": {"field": "x", "type": "quantitative", "axis": null},
  "y": {"field": "y", "type": "quantitative", "axis": null},
  "detail": {"field": "s"}
 }},
{"data": {"values": [{}]}, "mark": {"type": "text", "align": "right", "baseline": "alphabetic", "font": "Lato", "fontSize": 40, "color": "black"},
 "encoding": {
  "x": {"datum": 98.4, "type": "quantitative", "axis": null},
  "y": {"datum": 2.77, "type": "quantitative", "axis": null},
  "text": {"value": "Hyytiälä, Finland"}
 }},
{"data": {"values": []}, "mark": {"type": "line", "color": "black", "strokeWidth": 4.5},
 "encoding": {
  "x": {"field": "x", "type": "quantitative", "axis": null},
  "y": {"field": "y", "type": "quantitative", "axis": null},
  "strokeDash": {"field": "k", "type": "nominal", "scale": {"domain": ["Model", "In-situ"], "range": [[5,6],[1,0]]},
    "legend": {"orient": "none", "legendX": 362, "legendY": -57, "direction": "horizontal", "title": null, "symbolType": "M-1.55,0H1.55", "symbolSize": 1296, "symbolStrokeWidth": 4.5, "symbolStrokeColor": "black", "labelFont": "Lato", "labelFontSize": 42, "labelColor": "black", "labelOffset": 20, "columnPadding": 16, "labelLimit": 800}}
 }},
{"data": {"values": []}, "mark": {"type": "point", "filled": true, "color": "#6699ff", "opacity": 1},
 "encoding": {
  "x": {"field": "x", "type": "quantitative", "axis": null},
  "y": {"field": "y", "type": "quantitative", "axis": null},
  "shape": {"field": "k", "type": "nominal", "scale": {"domain": ["q1"], "range": ["M-1.78,-0.8H0V0H-1.78Z"]},
    "legend": {"orient": "none", "legendX": 781, "legendY": -57, "title": null, "symbolSize": 1296, "symbolStrokeWidth": 0, "labelExpr": "''", "labelFontSize": 42, "labelOffset": 19}}
 }},
{"data": {"values": []}, "mark": {"type": "point", "filled": true, "color": "#3366ff"},
 "encoding": {
  "x": {"field": "x", "type": "quantitative", "axis": null},
  "y": {"field": "y", "type": "quantitative", "axis": null},
  "opacity": {"field": "k", "type": "nominal", "scale": {"domain": ["q2"], "range": [1]},
    "legend": {"orient": "none", "legendX": 781, "legendY": -57, "title": null, "symbolType": "M0,-0.8H1.78V0H0Z", "symbolSize": 1296, "symbolStrokeWidth": 0, "labelExpr": "''", "labelFontSize": 42, "labelOffset": 19}}
 }},
{"data": {"values": []}, "mark": {"type": "point", "filled": true, "color": "#99ccff", "opacity": 1},
 "encoding": {
  "x": {"field": "x", "type": "quantitative", "axis": null},
  "y": {"field": "y", "type": "quantitative", "axis": null},
  "fillOpacity": {"field": "k", "type": "nominal", "scale": {"domain": ["q3"], "range": [1]},
    "legend": {"orient": "none", "legendX": 781, "legendY": -57, "title": null, "symbolType": "M0,0H1.78V0.8H0Z", "symbolSize": 1296, "symbolStrokeWidth": 0, "labelExpr": "''", "labelFontSize": 42, "labelOffset": 19}}
 }},
{"data": {"values": []}, "mark": {"type": "point", "filled": true, "opacity": 1},
 "encoding": {
  "x": {"field": "x", "type": "quantitative", "axis": null},
  "y": {"field": "y", "type": "quantitative", "axis": null},
  "color": {"field": "k", "type": "nominal", "scale": {"domain": ["Density of in-situ data"], "range": ["#0000ff"]},
    "legend": {"orient": "none", "legendX": 781, "legendY": -57, "title": null, "symbolType": "M-1.78,0H0V0.8H-1.78Z", "symbolSize": 1296, "symbolStrokeWidth": 0, "symbolOpacity": 1, "labelFont": "Lato", "labelFontSize": 42, "labelColor": "black", "labelOffset": 19, "labelLimit": 800}}
 }}
],
"resolve": {"axis": {"x": "independent", "y": "independent"}}
},
{
"width": 744, "height": 579,
"layer": [
{"data": {"name": "pyCells"}, "mark": {"type": "rect"},
 "encoding": {
  "x": {"field": "x", "type": "quantitative", "bin": {"binned": true, "step": 2}, "scale": {"domain": [-2, 102], "nice": false, "zero": false},
        "axis": {"orient": "bottom", "values": [0,5,10,15,20,25,30,35,40,45,50,55,60,65,70,75,80,85,90,95,100], "tickSize": {"condition": {"test": "datum.value % 20 === 0", "value": -12}, "value": -6}, "labelExpr": "datum.value % 20 === 0 ? datum.label : ''", "labelPadding": 46, "labelOverlap": false, "labelFlush": false, "title": "Scattering (Mm⁻¹)", "titlePadding": 13}},
  "y": {"field": "y", "type": "quantitative", "bin": {"binned": true, "step": 0.1}, "scale": {"domain": [-0.05, 3.05], "nice": false, "zero": false},
        "axis": {"orient": "left", "values": [0,0.1,0.2,0.3,0.4,0.5,0.6,0.7,0.8,0.9,1,1.1,1.2,1.3,1.4,1.5,1.6,1.7,1.8,1.9,2,2.1,2.2,2.3,2.4,2.5,2.6,2.7,2.8,2.9,3], "tickSize": {"condition": {"test": "round(datum.value*10) % 5 === 0", "value": -15}, "value": -8}, "labelExpr": "round(datum.value*10) % 5 === 0 ? format(datum.value, '.1f') : ''", "labelFontSize": 34, "labelPadding": 40, "labelOverlap": false, "labelFlush": false, "title": "Scattering Angstrom Exponent", "titlePadding": 18}},
  "fill": {"field": "l", "type": "ordinal", "scale": {"domain": [1,2,3,4,5,6,7], "range": ["#b3b3ff","#9999ff","#8080ff","#6666ff","#4d4dff","#3333ff","#1a1aff"]}, "legend": null}
 }},
{"data": {"name": "pyModel"}, "mark": {"type": "line", "color": "black", "strokeWidth": 3.2, "strokeDash": [8,5]},
 "encoding": {
  "x": {"field": "x", "type": "quantitative", "axis": {"orient": "top", "values": [0,5,10,15,20,25,30,35,40,45,50,55,60,65,70,75,80,85,90,95,100], "tickSize": {"condition": {"test": "datum.value % 20 === 0", "value": -12}, "value": -6}, "labels": false, "title": null}},
  "y": {"field": "y", "type": "quantitative", "axis": {"orient": "right", "values": [0,0.1,0.2,0.3,0.4,0.5,0.6,0.7,0.8,0.9,1,1.1,1.2,1.3,1.4,1.5,1.6,1.7,1.8,1.9,2,2.1,2.2,2.3,2.4,2.5,2.6,2.7,2.8,2.9,3], "tickSize": {"condition": {"test": "round(datum.value*10) % 5 === 0", "value": -15}, "value": -8}, "labels": false, "title": null}},
  "detail": {"field": "id"}
 }},
{"data": {"name": "pyInsitu"}, "mark": {"type": "line", "color": "black", "strokeWidth": 4.5},
 "encoding": {
  "x": {"field": "x", "type": "quantitative", "axis": null},
  "y": {"field": "y", "type": "quantitative", "axis": null},
  "detail": {"field": "s"}
 }},
{"data": {"values": [{}]}, "mark": {"type": "text", "align": "right", "baseline": "alphabetic", "font": "Lato", "fontSize": 40, "color": "black"},
 "encoding": {
  "x": {"datum": 98.3, "type": "quantitative", "axis": null},
  "y": {"datum": 2.76, "type": "quantitative", "axis": null},
  "text": {"value": "Pyramid, Nepal"}
 }}
],
"resolve": {"axis": {"x": "independent", "y": "independent"}}
}
],
"resolve": {
  "scale": {"strokeDash": "independent", "color": "independent", "shape": "independent", "opacity": "independent", "fillOpacity": "independent"},
  "legend": {"strokeDash": "independent", "color": "independent", "shape": "independent", "opacity": "independent", "fillOpacity": "independent"}
},
"config": {
 "background": "white",
 "view": {"stroke": "black", "strokeWidth": 3},
 "axis": {"grid": false, "domain": false, "labelFont": "Liberation Sans", "titleFont": "Liberation Sans", "labelFontSize": 32, "titleFontSize": 34, "titleFontWeight": "normal", "labelColor": "black", "titleColor": "black", "tickColor": "black", "tickWidth": 2}
}
}
